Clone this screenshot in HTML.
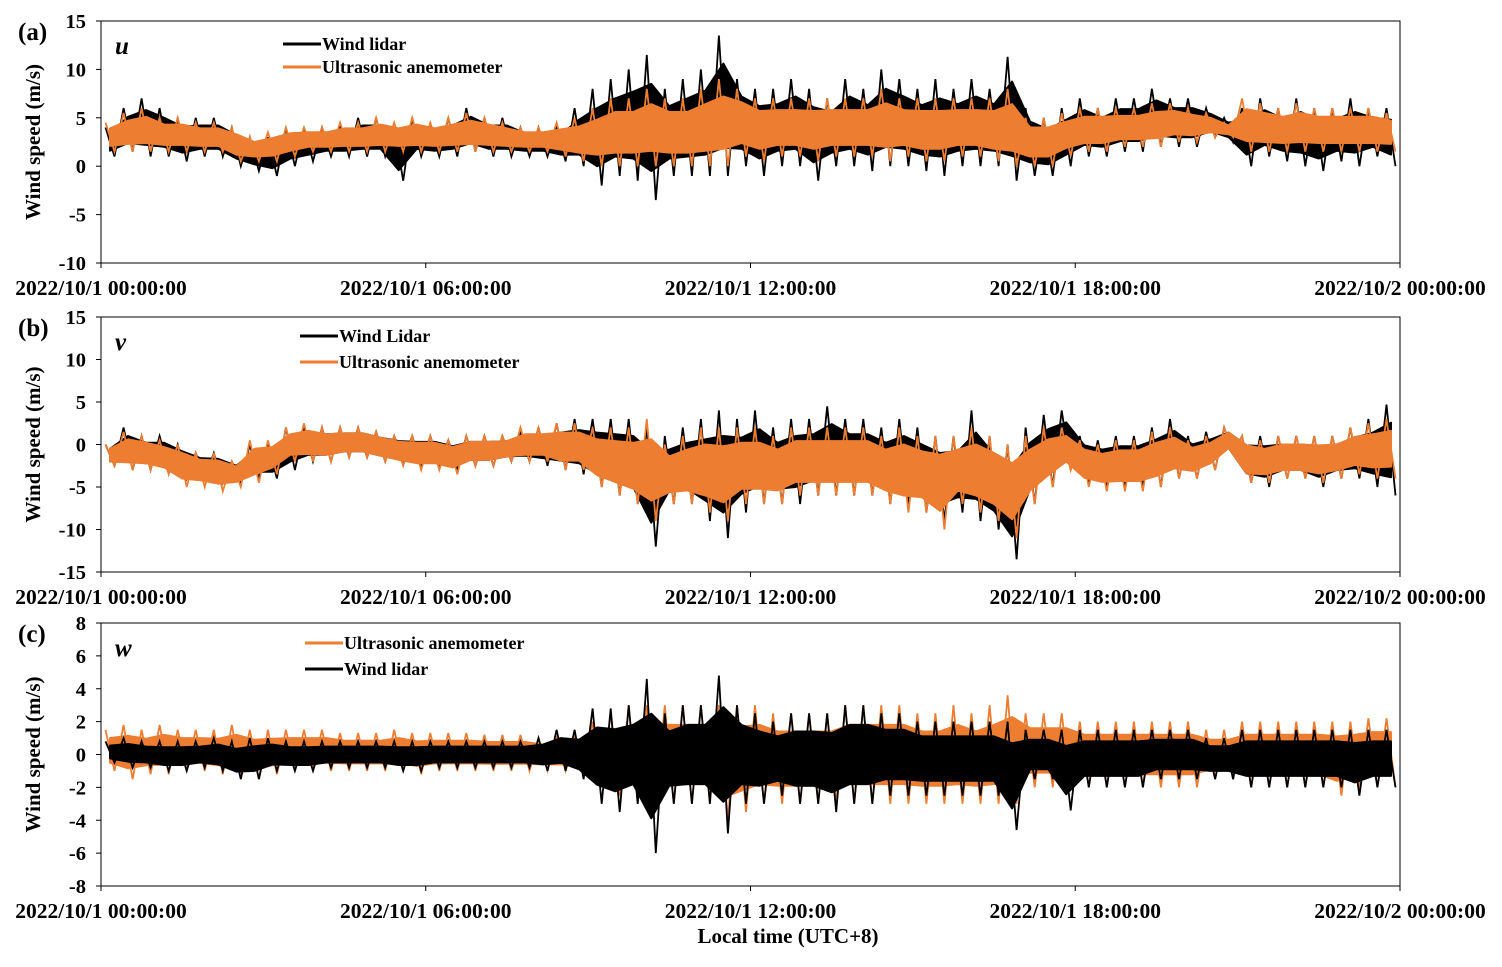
<!DOCTYPE html>
<html><head><meta charset="utf-8"><style>
body{margin:0;background:#fff}
svg text{font-family:"Liberation Serif",serif;font-weight:bold;fill:#000}
</style></head><body>
<svg id="chart" width="1502" height="962" viewBox="0 0 1502 962" xmlns="http://www.w3.org/2000/svg"></svg>
<script>
const xTickLabels=["2022/10/1 00:00:00","2022/10/1 06:00:00","2022/10/1 12:00:00","2022/10/1 18:00:00","2022/10/2 00:00:00"];
const xTickHours=[0,6,12,18,24];
const uTicks=[15,10,5,0,-5,-10];
const vTicks=[15,10,5,0,-5,-10,-15];
const wTicks=[8,6,4,2,0,-2,-4,-6,-8];
// 20-minute bins: high / low values per bin
const uLidarHi=[4,6,7,6,5,5,5,4,3,3,4,4,4,4,5,5,4,5,4,5,6,5,5,4,4,4,6,8,9,10,11.5,8,9,10,13.5,9,8,8,9,8,7,9,8,10,9,8,9,8,9,8,11.3,6,5,6,7,6,7,7,8,7,7,6,5,6,7,6,7,6,6,7,6,6];
const uLidarLo=[1,1.5,1,1,0.5,1,1,0,-0.5,-1,0,0.5,1,1,1,1,-1.5,1,1,1,1.5,1,1,1,1,0.5,0,-2,-1,-1.5,-3.5,-1,-1,-1,-1,0,-1,0,0,-1.5,0,0,-0.5,0,0,-0.5,-1,0,0,0,-1.5,-1,-1,0,1,1,1.5,1.5,2,2,2,3,2.5,0,1,0.5,0,-0.5,0.5,0,1,0];
const uSonicHi=[4.5,5.5,6,5,5,4.5,4.5,4,3,3.5,4,4,4,4.5,4.5,5,4.5,5,4.5,5,5.5,5,4.5,4,4,4.5,5,6,7,7,8,7,7,8,9,8,7,7,7,7,7,7,7,8,7,7,7,7,7,7,8,5,5,5.5,6,6,6,6,6.5,6.5,6,5.5,4.5,7,6.5,6,6.5,6,6,6,6,5.5];
const uSonicLo=[1.5,1.5,1.5,1.5,1.5,1.5,1.5,0.5,0.5,0.5,1,1.5,1.5,1.5,1.5,1.5,1.5,1.5,1.5,1.5,1.5,1.5,1.5,1.5,1.5,1,0.5,0,0,0,0,0,0,0,0,1,0.5,1,1,0.5,1,1,1,0.5,1,0.5,0.5,1,1,0.5,0,0,0,1,1.5,1.5,2,2,2,2.5,2.5,3,3,1.5,1.5,1.5,1.5,1.5,1.5,1.5,1.5,1.5];
const vLidarHi=[0,2,1,1,0,-1,-1,-2,0,0,2,2,2,2,2,1.5,1,1,1,0.5,1,1,1,1.5,2,2.5,3,3,3,3,2,1,2,3,4,3,4,2,3,3,4.5,3,3,2,3,2,1,1,4,1,0,2,3.5,4,1,0.5,1,1,2,3,1,1.5,2,1,1,1,1,1,1,2,3,4.7];
const vLidarLo=[-2.5,-3,-3,-3,-4,-4,-4.5,-4.5,-4,-4,-3,-2,-2,-1.5,-1.5,-2,-2,-2.5,-2.5,-3,-2.5,-2.5,-2,-2,-2.5,-3,-3.5,-5,-6,-7,-12,-7,-7,-9,-11,-8,-7,-7,-7,-6,-6,-6,-6,-7,-7,-8,-9,-8,-9,-10,-13.5,-7,-5,-3,-4.5,-5,-5,-5,-5,-4,-4,-3,-1,-4.5,-5,-4,-4,-5,-4,-4,-5,-6];
const vSonicHi=[0,1.5,1,0.5,0,-1,-1,-2,0.5,0.5,2,2.5,2,2,2,1.5,1,1,1,0.5,1,1,1,2,2,2.5,2.5,2,2,2,3,0,1,2,2,2,2,1,2,2,2,2,2,1,2,1,1,1,2,1,0,1,2,2,0.5,0,0.5,0.5,1.5,2,0.5,1,2,1,0.5,1,1,1,1,2,2.5,3];
const vSonicLo=[-2.5,-3,-3,-3.5,-5,-5,-5.5,-5,-4.5,-3.5,-2,-2,-2,-1.5,-1.5,-2,-2.5,-3,-3,-3.5,-2.5,-2.5,-2,-2,-2,-3,-3,-5,-6,-7,-9,-7,-7,-8,-9,-7,-7,-7,-6,-6,-6,-6,-6,-7,-8,-8,-10,-7,-8,-9,-11,-7,-5,-3,-5,-5.5,-5.5,-5.5,-5,-4,-4,-3,-1,-4.5,-4.5,-4,-4,-4.5,-4,-3.5,-4,-4];
const wSonicHi=[1.5,1.8,1.5,1.8,1.5,1.5,1.5,1.8,1.5,1.5,1.5,1.5,1.5,1.3,1.3,1.3,1.5,1.3,1.3,1.3,1.3,1.2,1.2,1.2,1,1,1,2,2.5,3,3,3,3,3,3,3,3,2.5,2.5,2.5,2.5,3,3,3,3,2.5,2.5,3,2.5,3,3.6,2.5,2.5,2.5,2,2,2,2,2,2,2,1.5,1.5,2,2,2,2,2,2,2,2.2,2.2];
const wSonicLo=[-1,-1.5,-1.2,-1.2,-1,-1,-1.2,-1.2,-1.5,-1.2,-1,-1,-1,-1,-1,-1,-1,-1.2,-1,-1,-1,-1,-1,-1,-1,-1,-1.2,-2,-2.5,-3,-3,-3,-3,-3,-4,-3.5,-3,-3,-3,-3,-3,-3,-3,-3,-3,-3,-3,-3,-3,-3,-3,-2,-2,-2,-2,-2,-2,-2,-2,-2,-2,-1.5,-1.5,-2,-2,-2,-2,-2,-2.5,-2,-2,-2];
const wLidarHi=[0.8,1,0.8,0.8,0.8,0.8,1,0.8,1,1,0.8,0.8,0.8,0.8,0.8,0.8,0.8,0.8,0.8,0.8,0.8,0.8,0.8,0.8,1,1.5,1.5,2.8,2.8,3,4.6,2.5,3,3,4.8,3,2.5,2,2.5,2.5,2.5,3,3,2.5,2.5,2,2,2,2,2,2,1.5,1.5,1.5,1.5,1.5,1.5,1.5,1.5,1.5,1.5,1,1,1.5,1.5,1.5,1.5,1.5,1.5,1.5,1.5,1.5];
const wLidarLo=[-0.5,-0.8,-0.8,-1,-1,-0.8,-1,-1.5,-1.5,-1,-1,-1,-0.8,-0.8,-0.8,-0.8,-1,-1,-0.8,-0.8,-0.8,-0.8,-0.8,-0.8,-1,-1,-1.5,-3,-3.5,-3,-6,-3,-3,-3,-4.8,-3,-3,-2.5,-3,-3,-3.5,-3,-3,-2.5,-2.5,-2.5,-2.5,-2.5,-2.5,-2.5,-4.6,-1.5,-1.5,-3.4,-2,-2,-2,-2,-1.5,-1.5,-1.5,-1.5,-1.5,-2,-2,-2,-2,-2,-2,-2.5,-2,-2];

const svg=document.getElementById('chart');
const NS='http://www.w3.org/2000/svg';
function mk(tag,attrs,parent,text){const e=document.createElementNS(NS,tag);for(const k in attrs)e.setAttribute(k,attrs[k]);if(text!==undefined)e.textContent=text;(parent||svg).appendChild(e);return e;}
const X0=101,X1=1400;
const xs=h=>X0+(X1-X0)*h/24;
const BLACK='#000',ORANGE='#ED7D31';

function panel(p){
  const g=mk('g',{});
  
  
  const ys=v=>p.top+(p.max-v)/(p.max-p.min)*(p.bot-p.top);
  p.series.forEach(s=>{
    // dense core band (middle part of each bin's range)
    const top=[],bot=[];
    for(let i=0;i<s.hi.length;i++){
      const mid=(s.hi[i]+s.lo[i])/2,half=(s.hi[i]-s.lo[i])*0.3;
      const x=xs(i/3+1/6).toFixed(1);
      top.push(x+','+ys(mid+half).toFixed(1));
      bot.unshift(x+','+ys(mid-half).toFixed(1));
    }
    const band=mk('polygon',{points:top.concat(bot).join(' '),fill:s.color,stroke:s.color,'stroke-width':2,'stroke-linejoin':'round'},g);
    
    
    // spikes
    let pts=[];
    for(let i=0;i<s.hi.length;i++){
      pts.push(xs(i/3+1/12).toFixed(1)+','+ys(s.hi[i]).toFixed(1));
      pts.push(xs(i/3+3/12).toFixed(1)+','+ys(s.lo[i]).toFixed(1));
    }
    const pl=mk('polyline',{points:pts.join(' '),fill:'none',stroke:s.color,'stroke-width':1.8,'stroke-linejoin':'miter'},g);
    
    
  });
  const fr=mk('rect',{x:X0,y:p.top,width:X1-X0,height:p.bot-p.top,fill:'none',stroke:'#000','stroke-width':1},g);
  
  
  p.ticks.forEach(v=>{
    mk('line',{x1:X0-5,x2:X0,y1:ys(v),y2:ys(v),stroke:'#000'},g);
    const t=mk('text',{x:86,y:ys(v)+7,'text-anchor':'end','font-size':20.5},g,String(v));
    
    
  });
  xTickHours.forEach((h,i)=>{
    mk('line',{x1:xs(h),x2:xs(h),y1:p.bot,y2:p.bot+5,stroke:'#000'},g);
    const t=mk('text',{x:xs(h),y:p.bot+32,'text-anchor':'middle','font-size':21.5},g,xTickLabels[i]);
    
    
  });
  const yt=mk('text',{transform:`translate(40,${(p.top+p.bot)/2}) rotate(-90)`,'text-anchor':'middle','font-size':21},g,'Wind speed (m/s)');
  
  
  const pl=mk('text',{x:18,y:p.top+19,'font-size':25},g,'('+p.id+')');
  
  
  const cl=mk('text',{x:115,y:p.top+33,'font-size':25,'font-style':'italic'},g,p.comp);
  
  
  p.legend.forEach((l,i)=>{
    const y=p.legY+i*p.legDy;
    mk('line',{x1:p.legX,x2:p.legX+38,y1:y,y2:y,stroke:l.color,'stroke-width':3},g);
    const t=mk('text',{x:p.legX+39,y:y+6,'font-size':18},g,l.text);
    
    
  });
}
panel({id:'a',comp:'u',top:21,bot:263,max:15,min:-10,ticks:uTicks,
  series:[{name:'u-wind-lidar-line',color:BLACK,hi:uLidarHi,lo:uLidarLo},{name:'u-ultrasonic-line',color:ORANGE,hi:uSonicHi,lo:uSonicLo}],
  legX:283,legY:44,legDy:23,legend:[{color:BLACK,text:'Wind lidar'},{color:ORANGE,text:'Ultrasonic anemometer'}]});
panel({id:'b',comp:'v',top:317,bot:572,max:15,min:-15,ticks:vTicks,
  series:[{name:'v-wind-lidar-line',color:BLACK,hi:vLidarHi,lo:vLidarLo},{name:'v-ultrasonic-line',color:ORANGE,hi:vSonicHi,lo:vSonicLo}],
  legX:300,legY:336,legDy:26,legend:[{color:BLACK,text:'Wind Lidar'},{color:ORANGE,text:'Ultrasonic anemometer'}]});
panel({id:'c',comp:'w',top:623,bot:886,max:8,min:-8,ticks:wTicks,
  series:[{name:'w-ultrasonic-line',color:ORANGE,hi:wSonicHi,lo:wSonicLo},{name:'w-wind-lidar-line',color:BLACK,hi:wLidarHi,lo:wLidarLo}],
  legX:305,legY:643,legDy:26,legend:[{color:ORANGE,text:'Ultrasonic anemometer'},{color:BLACK,text:'Wind lidar'}]});
const xt=mk('text',{x:788,y:943,'text-anchor':'middle','font-size':21},svg,'Local time (UTC+8)');


</script>
</body></html>
